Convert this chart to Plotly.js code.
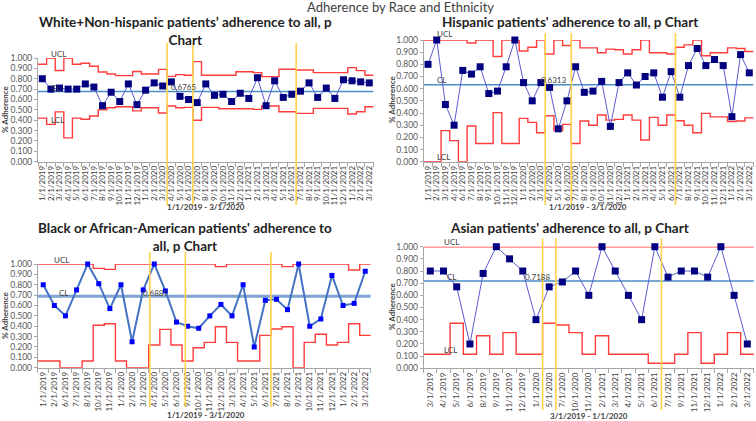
<!DOCTYPE html>
<html><head><meta charset="utf-8">
<script src="https://cdn.plot.ly/plotly-3.0.1.min.js"></script>
<style>html,body{margin:0;padding:0;background:#fff;}#chart{width:756px;height:421px;}</style>
</head><body><div id="chart"></div>
<script>
// ---------- Chart 1: White + Non-hispanic ----------
const whiteDates = ['1/1/2019','2/1/2019','3/1/2019','4/1/2019','5/1/2019','6/1/2019','7/1/2019','8/1/2019','9/1/2019','10/1/2019','11/1/2019','12/1/2019',
  '1/1/2020','2/1/2020','3/1/2020','4/1/2020','5/1/2020','6/1/2020','7/1/2020','8/1/2020','9/1/2020','10/1/2020','11/1/2020','12/1/2020',
  '1/1/2021','2/1/2021','3/1/2021','4/1/2021','5/1/2021','6/1/2021','7/1/2021','8/1/2021','9/1/2021','10/1/2021','11/1/2021','12/1/2021',
  '1/1/2022','2/1/2022','3/1/2022'];
const whiteAdherence = [0.80,0.70,0.71,0.70,0.70,0.75,0.72,0.54,0.67,0.58,0.75,0.55,
  0.69,0.76,0.73,0.77,0.63,0.60,0.57,0.75,0.64,0.65,0.58,0.66,
  0.61,0.81,0.54,0.78,0.62,0.65,0.68,0.76,0.62,0.71,0.61,0.79,
  0.78,0.77,0.76];
const whiteUCL = [0.94,1.0,0.88,1.0,0.94,0.95,0.92,0.865,0.845,0.83,0.83,0.87,
  0.845,0.845,0.89,0.823,0.84,0.833,0.965,0.833,0.833,0.833,0.833,0.868,
  0.868,0.859,0.82,0.82,0.891,0.891,0.884,0.884,0.859,0.859,0.859,0.859,
  0.907,0.878,0.833];
const whiteLCL = [0.42,0.36,0.48,0.23,0.42,0.41,0.44,0.50,0.52,0.53,0.53,0.49,
  0.52,0.52,0.47,0.537,0.52,0.524,0.40,0.524,0.524,0.511,0.511,0.511,
  0.511,0.505,0.537,0.537,0.482,0.482,0.466,0.466,0.514,0.514,0.514,0.514,
  0.46,0.482,0.53];
const whiteCL = 0.6765;
const whiteBreaks = [14.5, 17.5, 29.5];

// ---------- Chart 2: Hispanic ----------
const hispDates = ['1/1/2019','2/1/2019','3/1/2019','4/1/2019','6/1/2019','7/1/2019','8/1/2019','9/1/2019','10/1/2019','11/1/2019','12/1/2019',
  '1/1/2020','2/1/2020','3/1/2020','4/1/2020','5/1/2020','6/1/2020','7/1/2020','8/1/2020','9/1/2020','10/1/2020','11/1/2020','12/1/2020',
  '1/1/2021','2/1/2021','3/1/2021','4/1/2021','5/1/2021','6/1/2021','7/1/2021','8/1/2021','9/1/2021','10/1/2021','11/1/2021','12/1/2021',
  '1/1/2022','2/1/2022','3/1/2022'];
const hispAdherence = [0.80,1.0,0.47,0.30,0.75,0.72,0.78,0.56,0.58,0.78,1.0,
  0.65,0.50,0.65,0.61,0.27,0.50,0.78,0.57,0.58,0.66,0.29,0.65,
  0.73,0.63,0.70,0.73,0.53,0.74,0.53,0.79,0.93,0.79,0.84,0.79,
  0.37,0.88,0.73];
const hispUCL = [1,1,1,1,1,0.975,1,1,0.865,1,1,
  0.91,0.94,1,0.885,1,0.955,1,0.935,0.935,0.895,0.925,0.92,
  0.885,0.92,1,0.895,0.895,0.885,0.94,0.96,1,0.87,0.895,0.895,
  0.935,0.93,0.905];
const hispLCL = [0,0,0.255,0.173,0,0.293,0.15,0.15,0.403,0.15,0.15,
  0.356,0.323,0.238,0.378,0.255,0.307,0.15,0.334,0.30,0.384,0.342,0.348,
  0.384,0.342,0.178,0.364,0.30,0.384,0.337,0.30,0.238,0.397,0.368,0.368,
  0.33,0.335,0.36];
const hispCL = 0.6313;
const hispBreaks = [13.5, 16.5, 28.5];

// ---------- Chart 3: Black or African-American ----------
const blackDates = ['1/1/2019','2/1/2019','6/1/2019','7/1/2019','8/1/2019','10/1/2019','11/1/2019','1/1/2020','2/1/2020','3/1/2020',
  '4/1/2020','5/1/2020','6/1/2020','9/1/2020','10/1/2020','11/1/2020','12/1/2020','3/1/2021','4/1/2021','5/1/2021',
  '6/1/2021','7/1/2021','8/1/2021','9/1/2021','10/1/2021','11/1/2021','12/1/2021','1/1/2022','2/1/2022','3/1/2022'];
const blackAdherence = [0.80,0.60,0.50,0.75,1.0,0.81,0.57,0.80,0.25,0.75,
  1.0,0.74,0.44,0.40,0.38,0.50,0.61,0.50,0.80,0.20,
  0.65,0.66,0.56,1.0,0.40,0.47,0.89,0.60,0.62,0.93];
const blackUCL = [1,1,1,1,1,0.958,0.948,1,1,1,
  1,1,1,1,1,1,0.975,1,1,1,
  1,1,0.975,1,1,1,1,1,0.942,1];
const blackLCL = [0.064,0.064,0,0,0.064,0.41,0.424,0.064,0,0,
  0.219,0.37,0.219,0.064,0.193,0.244,0.395,0.244,0.064,0.064,
  0.312,0.373,0.395,0,0.244,0.322,0.219,0.244,0.424,0.312];
const blackCL = 0.6889;
const blackBreaks = [9.6, 12.8, 20.5];

// ---------- Chart 4: Asian ----------
const asianDates = ['3/1/2019','4/1/2019','5/1/2019','6/1/2019','8/1/2019','9/1/2019','11/1/2019','12/1/2019','1/1/2020','5/1/2020',
  '7/1/2020','10/1/2020','11/1/2020','2/1/2021','3/1/2021','4/1/2021','5/1/2021','6/1/2021','7/1/2021','9/1/2021',
  '11/1/2021','12/1/2021','1/1/2022','2/1/2022','3/1/2022'];
const asianAdherence = [0.80,0.80,0.67,0.20,0.78,1.0,0.90,0.80,0.40,0.67,
  0.71,0.80,0.60,1.0,0.80,0.60,0.40,1.0,0.75,0.80,
  0.80,0.75,1.0,0.60,0.20];
const asianUCL = [1,1,1,1,1,1,1,1,1,1, 1,1,1,1,1,1,1,1,1,1, 1,1,1,1,1];
const asianLCL = [0.115,0.115,0.37,0.115,0.268,0.115,0.293,0.115,0.115,0.37,
  0.356,0.293,0.115,0.268,0.115,0.115,0.115,0.041,0.041,0.115,
  0.293,0.041,0.115,0.293,0.115];
const asianCL = 0.7188;
const asianBreaks = [8.5, 9.5, 17.5];

const titles = [
  "White+Non-hispanic patients\u2019 adherence to all, p<br>Chart",
  "Hispanic patients' adherence to all, p Chart",
  "Black or African-American patients' adherence to<br>all, p Chart",
  "Asian patients' adherence to all, p Chart"
];
const rangeTitles = ['1/1/2019 - 3/1/2020','1/1/2019 - 3/1/2020','1/1/2019 - 3/1/2020','3/1/2019 - 1/1/2020'];

// ---------- layout geometry (pixels) ----------
const W = 756, H = 421;
const FONT = 'Lato, "Open Sans", sans-serif';
const charts = [
  {dates: whiteDates, adh: whiteAdherence, ucl: whiteUCL, lcl: whiteLCL, cl: whiteCL, breaks: whiteBreaks,
   box: [38, 373.6, 58, 161.7], gold: [1.145, -0.418], style: 'square',
   title: [185, 30.5], ytitle: [5, 110], xtitle: [206, 207],
   labels: {ucl: [1, 2], cl: [1, 2], lcl: [1, 2], val: [15, 3]}},
  {dates: hispDates, adh: hispAdherence, ucl: hispUCL, lcl: hispLCL, cl: hispCL, breaks: hispBreaks,
   box: [423.7, 753.6, 40, 161.7], gold: [1.057, -0.356], style: 'square',
   title: [570, 22], ytitle: [392, 100], xtitle: [588, 207],
   labels: {ucl: [1, 4], cl: [1, 3], lcl: [1, 3], val: [13, 3]}},
  {dates: blackDates, adh: blackAdherence, ucl: blackUCL, lcl: blackLCL, cl: blackCL, breaks: blackBreaks,
   box: [37.7, 370.8, 264, 367.7], gold: [1.116, -0.379], style: 'dot',
   title: [185, 236.5], ytitle: [5, 316], xtitle: [206, 415],
   labels: {ucl: [1, 2], cl: [1.4, 1], lcl: null, val: [9, 1]}},
  {dates: asianDates, adh: asianAdherence, ucl: asianUCL, lcl: asianLCL, cl: asianCL, breaks: asianBreaks,
   box: [423.7, 753.9, 246.7, 368.3], gold: [1.07, -0.343], style: 'square',
   title: [569, 228], ytitle: [392, 307], xtitle: [589, 416],
   labels: {ucl: [1, 3], cl: [1.3, 2], lcl: [1, 2], val: [7.2, 2]}}
];

function stepXY(vals) {
  const x = [], y = [];
  vals.forEach((v, i) => { x.push(i - 0.5); y.push(v); });
  x.push(vals.length - 0.5); y.push(vals[vals.length - 1]);
  return {x, y};
}

const traces = [];
const layout = {
  width: W, height: H, margin: {l: 0, r: 0, t: 0, b: 0},
  paper_bgcolor: '#fff', plot_bgcolor: '#fff', showlegend: false,
  font: {family: FONT, color: '#404040'},
  shapes: [], annotations: []
};

layout.annotations.push({text: 'Adherence by Race and Ethnicity', xref: 'paper', yref: 'paper',
  x: 400 / W, y: 1 - 7 / H, xanchor: 'center', yanchor: 'middle', showarrow: false,
  font: {size: 13, color: '#404040', family: FONT}});

charts.forEach((c, k) => {
  const sfx = k === 0 ? '' : String(k + 1);
  const xa = 'x' + sfx, ya = 'y' + sfx;
  const n = c.dates.length;
  const idx = c.dates.map((d, i) => i);
  const [x0, x1, yt, yb] = c.box;

  const u = stepXY(c.ucl), l = stepXY(c.lcl);
  const red = {color: '#FF3C3C', width: 1.4, shape: 'hv'};
  traces.push({x: u.x, y: u.y, xaxis: xa, yaxis: ya, mode: 'lines', line: red, hoverinfo: 'skip'});
  traces.push({x: l.x, y: l.y, xaxis: xa, yaxis: ya, mode: 'lines', line: red, hoverinfo: 'skip'});

  const clStyle = c.style === 'dot' ? {color: '#7EA4D3', width: 3} : {color: '#4A8BC8', width: 1.5};
  traces.push({x: [-0.5, n - 0.5], y: [c.cl, c.cl], xaxis: xa, yaxis: ya, mode: 'lines', line: clStyle, hoverinfo: 'skip'});

  if (c.style === 'dot') {
    traces.push({x: idx, y: c.adh, xaxis: xa, yaxis: ya, mode: 'lines+markers', cliponaxis: false,
      line: {color: '#4472C4', width: 2}, marker: {symbol: 'square', size: 5, color: '#0000FF'}});
  } else {
    traces.push({x: idx, y: c.adh, xaxis: xa, yaxis: ya, mode: 'lines+markers', cliponaxis: false,
      line: {color: '#5A5AD0', width: 1}, marker: {symbol: 'square', size: 7, color: '#000080'}});
  }

  layout['xaxis' + sfx] = {
    domain: [x0 / W, x1 / W], anchor: ya, range: [-0.5, n - 0.5],
    tickmode: 'array', tickvals: idx, ticktext: c.dates, tickangle: -90,
    tickfont: {size: 8, color: '#404040', family: FONT},
    showline: true, linecolor: '#A6A6A6', linewidth: 1, ticks: '',
    minor: {tickmode: 'linear', tick0: -0.5, dtick: 1, ticks: 'outside', ticklen: 4, tickcolor: '#A6A6A6', showgrid: false},
    showgrid: false, zeroline: false, fixedrange: true
  };
  layout['yaxis' + sfx] = {
    domain: [1 - yb / H, 1 - yt / H], anchor: xa, range: [0, 1],
    tickmode: 'array', tickvals: [0,0.1,0.2,0.3,0.4,0.5,0.6,0.7,0.8,0.9,1.0], tickformat: '.3f',
    tickfont: {size: 8.5, color: '#595959', family: FONT},
    showline: true, linecolor: '#A6A6A6', linewidth: 1, ticks: 'outside', ticklen: 3, tickcolor: '#A6A6A6',
    showgrid: false, zeroline: false, fixedrange: true
  };

  c.breaks.forEach(b => {
    layout.shapes.push({type: 'line', xref: xa, yref: ya + ' domain', x0: b, x1: b, y0: c.gold[1], y1: c.gold[0],
      line: {color: '#FFD04A', width: 1.6}, layer: 'above'});
  });

  layout.annotations.push({text: '<b>' + titles[k] + '</b>', xref: 'paper', yref: 'paper',
    x: c.title[0] / W, y: 1 - c.title[1] / H, xanchor: 'center', yanchor: 'middle', showarrow: false, align: 'center',
    font: {size: 13.5, color: '#222', family: FONT}});
  layout.annotations.push({text: '<b>% Adherence</b>', xref: 'paper', yref: 'paper', textangle: -90,
    x: c.ytitle[0] / W, y: 1 - c.ytitle[1] / H, xanchor: 'center', yanchor: 'middle', showarrow: false,
    font: {size: 8, color: '#404040', family: FONT}});
  layout.annotations.push({text: '<b>' + rangeTitles[k] + '</b>', xref: 'paper', yref: 'paper',
    x: c.xtitle[0] / W, y: 1 - c.xtitle[1] / H, xanchor: 'center', yanchor: 'middle', showarrow: false,
    font: {size: 8, color: '#404040', family: FONT}});

  const lab = (txt, xi, yv, dy) => layout.annotations.push({text: txt, xref: xa, yref: ya, x: xi, y: yv,
    xanchor: 'left', yanchor: 'bottom', yshift: dy - 5, xshift: -2, showarrow: false,
    font: {size: 8, color: '#404040', family: FONT}});
  const L = c.labels;
  lab('UCL', L.ucl[0], c.ucl[Math.round(L.ucl[0])], L.ucl[1]);
  lab('CL', L.cl[0], c.cl, L.cl[1]);
  if (L.lcl) lab('LCL', L.lcl[0], c.lcl[Math.round(L.lcl[0])], L.lcl[1]);
  lab(c.cl.toFixed(4), L.val[0], c.cl, L.val[1]);
});

Plotly.newPlot('chart', traces, layout, {staticPlot: true, displayModeBar: false});
</script>
</body></html>
